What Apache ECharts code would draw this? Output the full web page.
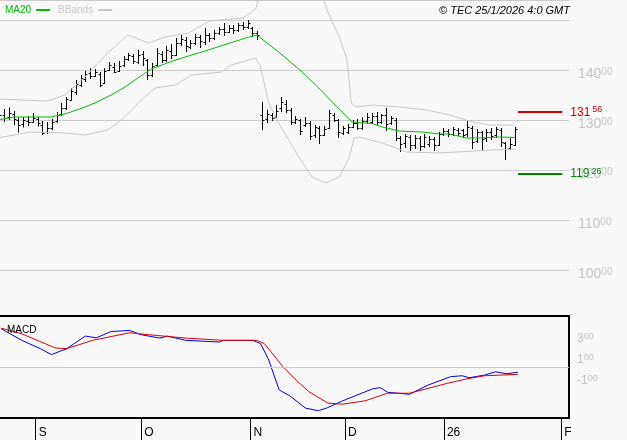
<!DOCTYPE html>
<html>
<head>
<meta charset="utf-8">
<script src="https://cdn.jsdelivr.net/npm/echarts@6/dist/echarts.min.js"></script>
<style>
  html, body { margin: 0; padding: 0; background: #f8f8f8; }
  #chart { width: 627px; height: 440px; }
</style>
</head>
<body>
<div id="chart"></div>
<script>
// --- data -------------------------------------------------------------------
// one bar per trading session: [open, close, low, high]
const ohlc = [
  [130.5,131.0,129.8,131.5],[131.0,130.4,129.6,132.2],[130.6,131.5,130.0,132.5],[131.2,130.2,129.0,131.8],
  [130.0,129.0,127.5,130.5],[129.2,130.0,128.5,130.6],[129.8,129.6,128.8,130.8],[129.7,130.4,129.5,131.4],
  [130.2,129.4,128.7,130.6],[129.0,127.5,127.0,129.8],[127.6,128.4,127.2,129.6],[128.5,129.6,128.0,130.2],
  [129.8,131.0,129.4,131.6],[131.2,132.4,130.8,133.4],[132.4,134.2,132.0,134.6],[134.0,135.8,133.8,136.4],
  [135.6,137.2,135.0,138.0],[137.0,138.4,136.6,139.0],[138.2,139.2,137.6,139.8],[139.4,138.8,138.2,140.4],
  [138.8,139.6,138.6,140.2],[139.2,137.0,136.6,139.6],[137.4,139.8,137.2,140.4],[140.0,141.0,139.8,141.6],
  [140.6,139.6,139.4,141.4],[139.8,140.8,139.6,141.8],[141.0,142.2,140.6,142.8],[142.2,143.0,141.8,143.4],
  [142.8,141.8,141.2,143.2],[141.6,143.0,141.2,144.0],[143.2,142.4,140.8,143.8],[142.0,139.0,138.0,142.2],
  [139.0,140.8,138.6,141.4],[141.0,143.4,140.6,144.4],[143.2,142.0,141.4,143.8],[142.0,144.0,141.6,144.8],
  [143.8,143.0,142.2,145.2],[143.0,145.4,142.8,146.4],[145.4,146.2,144.8,147.0],[146.0,144.8,143.6,146.6],
  [144.6,145.4,144.2,146.0],[145.4,146.6,145.0,147.2],[146.6,145.8,144.4,147.0],[145.6,147.0,145.0,148.4],
  [147.0,146.4,145.6,147.4],[146.4,147.4,146.0,148.0],[147.4,148.2,147.0,148.6],[148.2,147.6,146.8,149.4],
  [147.6,148.4,147.4,149.0],[148.4,148.0,147.2,149.0],[148.0,149.0,147.6,149.4],[149.0,148.6,148.0,149.6],
  [148.6,149.4,148.2,150.0],[148.4,147.4,146.6,148.6],[147.4,147.0,146.0,147.8],
  [131.0,130.0,128.0,133.6],[130.2,131.2,129.4,132.0],[131.0,130.4,129.8,131.4],[130.6,131.8,130.2,133.0],
  [132.4,133.6,131.6,134.6],[133.2,132.0,131.4,134.0],[132.0,129.6,129.0,132.4],[129.6,130.2,129.2,130.8],
  [130.0,127.8,127.0,130.2],[129.0,129.4,128.6,130.6],[129.4,126.8,126.0,129.8],[127.0,128.6,126.4,129.0],
  [128.4,127.0,125.2,128.8],[127.0,128.2,126.8,128.8],[128.4,131.4,128.2,132.0],[131.0,130.0,129.6,131.4],
  [130.0,127.6,126.4,130.2],[127.4,128.4,127.0,128.8],[127.6,128.6,127.2,129.2],[128.6,129.4,128.4,130.0],
  [129.4,128.4,128.0,130.2],[128.4,129.8,128.0,130.6],[129.8,130.6,129.2,131.4],[129.6,130.8,129.2,131.4],
  [130.8,129.6,129.0,131.6],[129.6,131.0,129.2,131.2],[131.0,129.2,127.8,132.4],[129.4,130.4,129.0,130.8],
  [130.0,126.4,125.8,130.4],[126.4,125.2,123.6,126.8],[125.4,126.8,124.4,127.2],[126.6,125.0,123.8,127.0],
  [125.0,126.4,124.2,127.0],[126.4,124.8,123.8,126.8],[124.8,126.6,124.4,127.2],[125.2,126.2,124.6,126.8],
  [126.2,125.0,123.8,126.6],[125.0,127.2,124.8,127.6],[127.2,127.8,126.8,128.4],[127.8,127.2,126.6,128.2],
  [127.2,128.2,126.8,128.6],[128.0,127.4,126.8,128.4],[128.0,127.0,126.4,128.2],[127.2,128.6,126.6,130.0],
  [128.4,125.6,124.2,128.8],[125.8,127.6,125.4,128.2],[127.6,126.2,124.0,127.8],[126.4,127.6,125.6,128.2],
  [127.6,126.8,126.0,128.4],[127.0,128.2,126.4,128.6],[128.0,125.6,124.6,128.4],[125.4,124.2,122.0,125.6],
  [124.4,125.2,124.0,126.4],[125.0,128.2,124.8,128.6]
];

// indicator lines as [session index, value]
const ma20 = [[-0.4,130],[3.2,130.6],[10.7,130.6],[13.7,131.2],[17.1,132.3],[20,133.4],[23.4,135],[26.3,136.6],
  [28.4,138],[31.8,140.2],[36,141.7],[39.6,142.8],[44.4,144.2],[51.6,146.4],[53.9,147],[58.5,143.6],[63.4,139.6],
  [66.9,136.4],[69.7,133.6],[73.9,129.6],[78.1,129.3],[80.2,128.6],[83.8,127.8],[88.6,127.6],[92.2,127.2],
  [94.3,127.2],[97.9,126.4],[100.6,126.4],[104.8,126.6],[108,126.5]];
const bbUpper = [[-0.4,134.2],[10.1,133.8],[13.7,135],[17.9,138.6],[22.7,143.4],[26.9,147],[31.2,145.4],[34.7,146.6],
  [39.6,147.4],[44,149.8],[51,150.4],[53.7,152.2],[54.7,156],[57.5,161],[62.7,164],[66.5,159],[68.6,152],
  [71.2,146.6],[72.8,142],[73.7,133.4],[74.7,132.6],[78.1,133],[83.8,132.6],[89.5,132],[94.3,131],[99.2,129.6],
  [102.7,129],[108,129]];
const bbLower = [[-0.4,126.4],[6.5,127.6],[13.7,127.4],[17.9,127],[22.7,128],[26.3,130.6],[29.7,134],[32.6,136.4],
  [36.8,137],[39.6,138.6],[40.2,139],[46.5,139.6],[48.6,141],[53.7,142.4],[54.7,140.6],[56.4,133.4],[58.5,129.4],
  [62.7,122.6],[65.5,118.6],[68.4,117.4],[71.2,118.6],[73.3,122.6],[74.3,126.4],[75.4,126.6],[80.2,125.4],
  [85.3,123.6],[92.2,123.4],[99.2,123.8],[108,124.2]];
const macd = [[0.4,3.97],[4.7,2.86],[8.6,2.06],[10.9,1.49],[14.1,2.06],[18,3.27],[20.3,3.1],[23.4,3.71],[27.3,3.81],
  [29.7,3.4],[33.6,3.08],[35.2,3.27],[39,2.86],[46.1,2.7],[46.9,2.86],[53.1,2.86],[54.7,2.54],[56.3,1.11],
  [58.6,-1.9],[60.9,-2.5],[64.1,-3.65],[66.8,-3.9],[68.8,-3.6],[71.9,-2.95],[78.1,-1.81],[79.7,-1.68],[81.3,-2.13],
  [85.9,-2.32],[89.8,-1.43],[94.5,-0.63],[96.9,-0.54],[98.4,-0.73],[101.6,-0.48],[103.9,-0.16],[106.3,-0.35],[108.6,-0.2]];
const signal = [[0.4,4.03],[4.7,3.49],[11.7,2.13],[14.1,2.06],[19.5,2.86],[27.3,3.59],[31.3,3.4],[39,3.08],[46.9,2.86],
  [53.9,2.86],[55.5,2.54],[59.4,0.32],[62.5,-1.11],[64.8,-2.06],[68.8,-3.17],[71.9,-3.27],[76.6,-2.95],[81.3,-2.22],
  [85.9,-2.22],[89.8,-1.75],[93.8,-1.27],[97.7,-0.86],[101.6,-0.54],[108.6,-0.41]];

const levelHigh = 131.56;
const levelLow = 119.26;
const levelSpan = [108.6, 117.9];

const monthTicks = [7.6, 29.7, 52.6, 72.4, 93.1, 117.7];
const monthLabels = ["S", "O", "N", "D", "26", "F"];
const priceTicks = [100, 110, 120, 130, 140];
const macdTicks = [3, 1, -1];

// --- styling ----------------------------------------------------------------
const C = {
  bg: "#f8f8f8", grid: "#cccccc", axisText: "#c4c4c4", bar: "#000000",
  ma: "#00bb00", band: "#c8c8c8", macd: "#0000dd", signal: "#dd0000",
  red: "#cc0000", green: "#008800",
};
const FONT = "Liberation Sans, Arial, sans-serif";
const X_MIN = -0.5, X_MAX = 119.3;

const twoPart = (v, big, small) => {
  const s = v.toFixed(2).split(".");
  return `{${big}|${s[0]}}{${small}|${s[1]}}`;
};

function renderBar(params, api) {
  const i = api.value(0);
  const lo = api.coord([i, api.value(3)]);
  const hi = api.coord([i, api.value(4)]);
  const op = api.coord([i, api.value(1)]);
  const cl = api.coord([i, api.value(2)]);
  const x = Math.round(lo[0]) + 0.5;
  const st = { stroke: C.bar, lineWidth: 1 };
  return {
    type: "group",
    children: [
      { type: "line", shape: { x1: x, y1: lo[1], x2: x, y2: hi[1] }, style: st },
      { type: "line", shape: { x1: x - 2, y1: Math.round(op[1]) + 0.5, x2: x, y2: Math.round(op[1]) + 0.5 }, style: st },
      { type: "line", shape: { x1: x, y1: Math.round(cl[1]) + 0.5, x2: x + 2, y2: Math.round(cl[1]) + 0.5 }, style: st },
    ],
  };
}

const levelLine = (value, color, big, small) => ({
  silent: true, symbol: "none",
  lineStyle: { color, width: 2, type: "solid" },
  label: {
    show: true, position: "end", distance: 8,
    formatter: () => twoPart(value, big, small),
    rich: {
      [big]: { color, fontFamily: FONT, fontSize: 12 },
      [small]: { color, fontFamily: FONT, fontSize: 9, padding: [0, 0, 5, 2] },
    },
  },
  data: [[{ coord: [levelSpan[0], value] }, { coord: [levelSpan[1], value] }]],
});

const chart = echarts.init(document.getElementById("chart"), null, { renderer: "canvas" });

chart.setOption({
  backgroundColor: C.bg,
  animation: false,
  title: [
    { text: "© TEC 25/1/2026 4:0 GMT", right: 52, top: 0,
      textStyle: { fontFamily: FONT, fontSize: 11, fontStyle: "italic", fontWeight: "normal", color: "#000" } },
    { text: "MACD", left: 2, top: 320,
      textStyle: { fontFamily: FONT, fontSize: 10, fontWeight: "normal", color: "#000" } },
  ],
  legend: {
    left: 0, top: 0, align: "right", itemGap: 8, itemWidth: 14, itemHeight: 2, icon: "rect",
    textStyle: { fontFamily: FONT, fontSize: 10, padding: [0, 0, 0, 0] },
    data: [
      { name: "MA20", textStyle: { color: C.ma } },
      { name: "BBands", textStyle: { color: C.band } },
    ],
  },
  grid: [
    { left: -3, right: 58, top: 0, height: 320, outerBoundsMode: "none", containLabel: false },
    { left: -3, right: 58, top: 316, height: 102, show: true, borderColor: "#000", borderWidth: 2,
      outerBoundsMode: "none", containLabel: false },
  ],
  xAxis: [
    { type: "value", gridIndex: 0, min: X_MIN, max: X_MAX, show: false },
    { type: "value", gridIndex: 1, min: X_MIN, max: X_MAX,
      axisLine: { show: true, onZero: false, lineStyle: { color: "#000" } },
      axisTick: { show: true, length: 22, lineStyle: { color: "#000" }, customValues: monthTicks },
      axisLabel: {
        customValues: monthTicks, margin: 9, align: "left", padding: [0, 0, 0, 3],
        fontFamily: FONT, fontSize: 12, color: "#000", verticalAlign: "top",
        formatter: (v) => monthLabels[monthTicks.findIndex((t) => Math.abs(t - v) < 1e-6)] ?? "",
      },
      splitLine: { show: false } },
  ],
  yAxis: [
    { type: "value", gridIndex: 0, position: "right", min: 90, max: 154, interval: 10,
      axisLine: { show: true, lineStyle: { color: "#000" } },
      axisTick: { show: false },
      splitLine: { show: true, showMinLine: false, lineStyle: { color: C.grid } },
      axisLabel: {
        margin: 9, padding: [9, 0, 0, 0],
        formatter: (v) => (priceTicks.includes(v) ? twoPart(v, "a", "b") : ""),
        rich: {
          a: { color: C.axisText, fontFamily: FONT, fontSize: 14 },
          b: { color: C.axisText, fontFamily: FONT, fontSize: 10, padding: [0, 0, 5, 0] },
        },
      } },
    { type: "value", gridIndex: 1, position: "right", min: -4.6, max: 5.2, interval: 0.2,
      axisLine: { show: false }, axisTick: { show: false }, splitLine: { show: false },
      axisLabel: {
        margin: 8,
        formatter: (v) => {
          const hit = macdTicks.find((t) => Math.abs(t - v) < 1e-6);
          return hit === undefined ? "" : `{a|${hit < 0 ? "-" : ""}${Math.abs(hit)}}{b|00}`;
        },
        rich: {
          a: { color: C.axisText, fontFamily: FONT, fontSize: 12 },
          b: { color: C.axisText, fontFamily: FONT, fontSize: 9, padding: [0, 0, 5, 0] },
        },
      } },
  ],
  series: [
    { name: "BBands", type: "line", xAxisIndex: 0, yAxisIndex: 0, data: bbUpper,
      symbol: "none", clip: true, lineStyle: { color: C.band, width: 1 }, itemStyle: { color: C.band } },
    { name: "BBands", type: "line", xAxisIndex: 0, yAxisIndex: 0, data: bbLower,
      symbol: "none", clip: true, lineStyle: { color: C.band, width: 1 }, itemStyle: { color: C.band } },
    { name: "MA20", type: "line", xAxisIndex: 0, yAxisIndex: 0, data: ma20,
      symbol: "none", lineStyle: { color: C.ma, width: 1 }, itemStyle: { color: C.ma } },
    { name: "_bars", type: "custom", xAxisIndex: 0, yAxisIndex: 0, renderItem: renderBar,
      encode: { x: 0, y: [1, 2, 3, 4] },
      data: ohlc.map((r, i) => [i, ...r]) },
    { name: "_levels", type: "line", xAxisIndex: 0, yAxisIndex: 0, data: [], symbol: "none",
      markLine: levelLine(levelHigh, C.red, "r1", "r2") },
    { name: "_levels2", type: "line", xAxisIndex: 0, yAxisIndex: 0, data: [], symbol: "none",
      markLine: levelLine(levelLow, C.green, "g1", "g2") },
    { name: "_grid", type: "line", xAxisIndex: 1, yAxisIndex: 1, data: [], symbol: "none",
      markLine: { silent: true, symbol: "none", label: { show: false },
        lineStyle: { color: C.grid, width: 1, type: "solid" }, data: [{ yAxis: 0.3 }] } },
    { name: "MACD", type: "line", xAxisIndex: 1, yAxisIndex: 1, data: macd,
      symbol: "none", lineStyle: { color: C.macd, width: 1 } },
    { name: "Signal", type: "line", xAxisIndex: 1, yAxisIndex: 1, data: signal,
      symbol: "none", lineStyle: { color: C.signal, width: 1 } },
  ],
});
</script>
</body>
</html>
